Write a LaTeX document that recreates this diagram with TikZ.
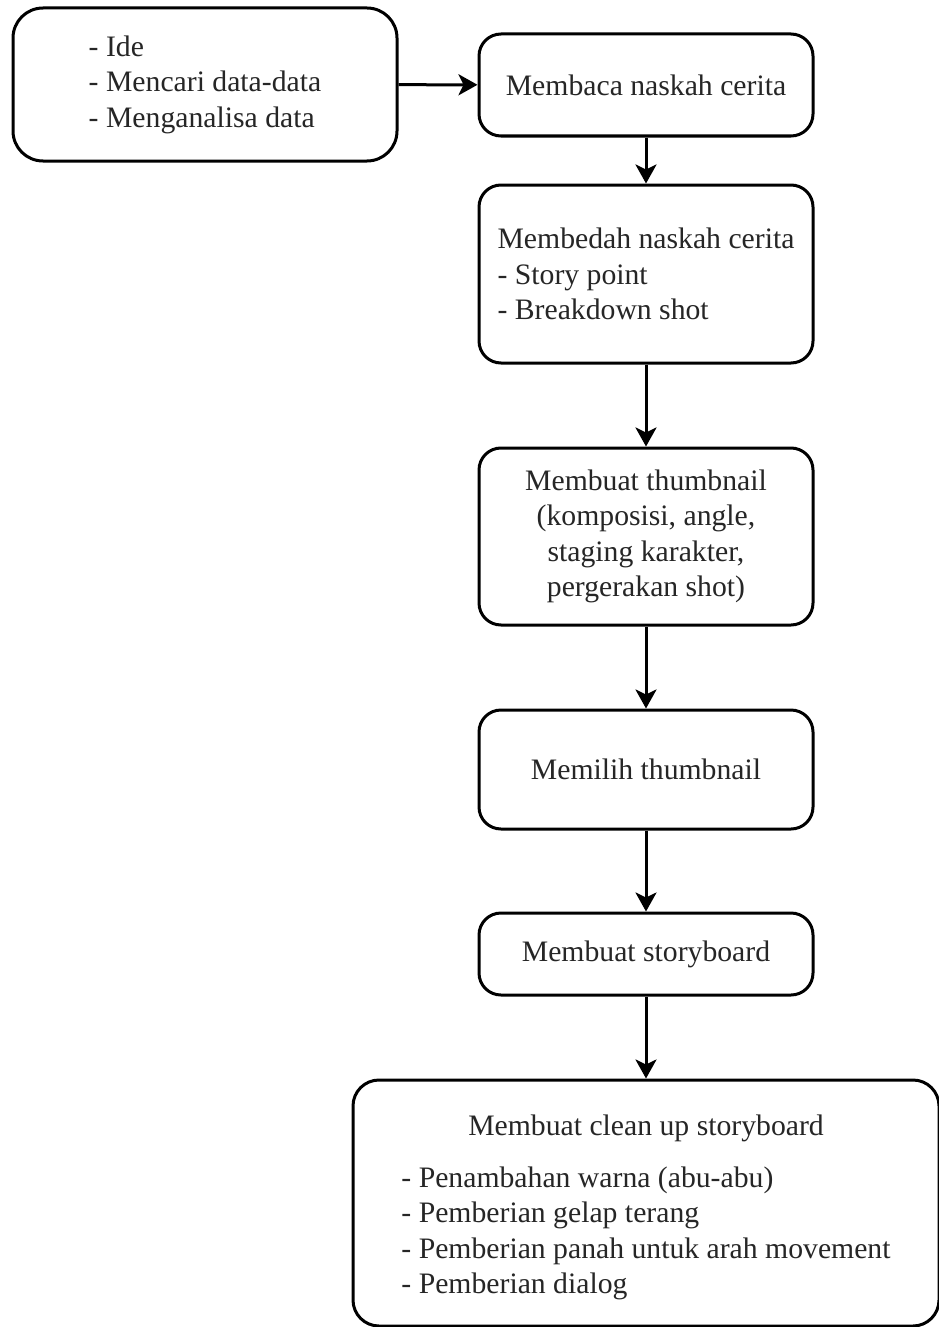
\documentclass[tikz,border=0pt]{standalone}
\usepackage{fontspec}
\setmainfont{Liberation Serif}
\usepackage{tikz}
\usetikzlibrary{arrows.meta, positioning, shapes}

\begin{document}
\begin{tikzpicture}[x=1pt, y=-1pt,
    box/.style={draw=black, line width=3pt, rounded corners=22pt, fill=white,
        text=black!85, font=\fontsize{29.7}{35.5}\selectfont, inner sep=0pt},
    flow/.style={line width=3pt, -{Stealth[length=19pt, width=21pt, inset=5pt]}}]

    \useasboundingbox (0,0) rectangle (939,1327);  % page size

    % preparation box, left
    \node[box, rounded corners=30pt, minimum width=384pt, minimum height=153pt, align=left]
        (ide) at (205,84.5) {- Ide\\- Mencari data-data\\- Menganalisa data};

    % main column
    \node[box, minimum width=334pt, minimum height=102pt]
        (membaca) at (646,85) {Membaca naskah cerita};
    \node[box, minimum width=334pt, minimum height=178pt, align=left]
        (bedah) at (646,274) {Membedah naskah cerita\\- Story point\\- Breakdown shot};
    \node[box, minimum width=334pt, minimum height=177pt, align=center]
        (thumb) at (646,536.5) {Membuat thumbnail\\(komposisi, angle,\\staging karakter,\\pergerakan shot)};
    \node[box, minimum width=334pt, minimum height=119pt]
        (pilih) at (646,769.5) {Memilih thumbnail};
    \node[box, minimum width=334pt, minimum height=82pt]
        (board) at (646,954) {Membuat storyboard};

    % last box, runs off the page
    \node[box, rounded corners=26pt, minimum width=586pt, minimum height=246pt, align=center]
        (cleanup) at (646,1203) {\rule{0pt}{34pt}Membuat clean up storyboard\\[19pt]%
        \begin{tabular}{@{}l@{}}
            - Penambahan warna (abu-abu)\\
            - Pemberian gelap terang\\
            - Pemberian panah untuk arah movement\\
            - Pemberian dialog
        \end{tabular}};

    % arrows
    \draw[flow] (ide) -- (membaca);
    \draw[flow] (membaca) -- (bedah);
    \draw[flow] (bedah) -- (thumb);
    \draw[flow] (thumb) -- (pilih);
    \draw[flow] (pilih) -- (board);
    \draw[flow] (board) -- (cleanup);

\end{tikzpicture}
\end{document}
